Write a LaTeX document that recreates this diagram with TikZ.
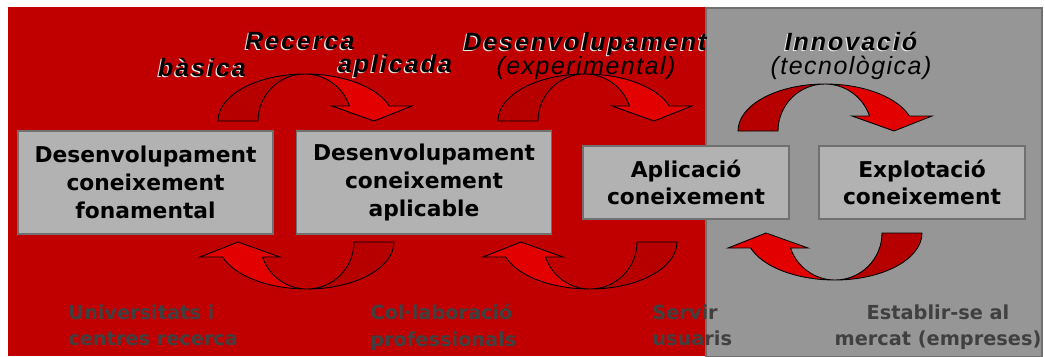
\documentclass[tikz,border=0pt]{standalone}
\usepackage{fontspec}
\setmainfont{DejaVu Sans}
\newfontfamily\stagefont[LetterSpace=6]{Liberation Sans}
\newfontfamily\stageboldfont[LetterSpace=8]{Liberation Sans}
\definecolor{bgred}{RGB}{192,0,0}
\definecolor{bggrey}{RGB}{150,150,150}
\definecolor{boxgrey}{RGB}{178,178,178}
\definecolor{rimgrey}{RGB}{112,112,112}
\definecolor{darkshaft}{RGB}{182,0,0}
\definecolor{lightshaft}{RGB}{226,0,0}
\definecolor{labgrey}{RGB}{64,64,64}
\definecolor{shadegrey}{RGB}{235,235,235}

% bent block arrow: centre x, base y, turn
\newcommand{\bentarrow}[3]{%
  \begin{scope}[shift={(#1,#2)},rotate=#3,line width=0.5pt]
    \filldraw[fill=darkshaft] (-87,0) arc[start angle=180,end angle=90,x radius=87,y radius=47]
      arc[start angle=90,end angle=180,x radius=47,y radius=47] -- cycle;
    \filldraw[fill=lightshaft] (0,47) arc[start angle=90,end angle=18.6,x radius=89,y radius=47]
      -- (107,15) -- (69,0) -- (27,15) -- (44.5,15)
      arc[start angle=18.6,end angle=90,x radius=47,y radius=47] -- cycle;
  \end{scope}}

% bold label with a pale shadow
\newcommand{\stagelabel}[4]{%
  \node[stage,boldstage,text=shadegrey] (#1s) at ($(#2,#3)+(-1.3,-1.3)$) {#4};
  \node[stage,boldstage] (#1) at (#2,#3) {#4};}

\usetikzlibrary{calc}

\begin{document}
\begin{tikzpicture}[x=0.02cm,y=0.02cm,
  box/.style={draw=rimgrey,line width=0.7pt,fill=boxgrey,align=center,
    minimum width=5.1cm,minimum height=2.06cm,inner sep=0pt,
    font=\bfseries\fontsize{12.4}{15.8}\selectfont},
  smallbox/.style={box,minimum width=4.12cm,minimum height=1.46cm},
  lab/.style={text=labgrey,inner sep=0pt,font=\bfseries\fontsize{11}{15.3}\selectfont},
  stage/.style={anchor=base,inner sep=0pt,font=\stagefont\itshape\fontsize{14.2}{16}\selectfont},
  boldstage/.style={font=\stageboldfont\bfseries\itshape\fontsize{14.2}{16}\selectfont}]
  \useasboundingbox (0,0) rectangle (1045,356);
  \fill[bgred] (8,0) rectangle (706,349);
  \filldraw[fill=bggrey,draw=rimgrey,line width=0.6pt] (706,-1) rectangle (1042,348);

  \node[box] (F) at (145.5,173.5) {Desenvolupament\\coneixement\\fonamental};
  \node[box] (A) at (424,173.5) {Desenvolupament\\coneixement\\aplicable};
  \node[smallbox] (P) at (686,173.5) {Aplicació\\coneixement};
  \node[smallbox] (X) at (922,173.5) {Explotació\\coneixement};

  \bentarrow{305}{235}{0}
  \bentarrow{585}{235}{0}
  \bentarrow{825}{225}{0}
  \bentarrow{307}{114}{180}
  \bentarrow{590}{114}{180}
  \bentarrow{835}{123}{180}

  \stagelabel{R}{300}{307}{Recerca}
  \stagelabel{B}{202}{280}{bàsica}
  \stagelabel{Ap}{395}{284}{aplicada}
  \stagelabel{D}{585}{306}{Desenvolupament}
  \stagelabel{I}{851}{306}{Innovació}
  \node[stage] (Ex) at (586,282) {(experimental)};
  \node[stage] (T) at (851,282) {(tecnològica)};

  \node[lab,anchor=north west,align=left] (U) at (68,52) {Universitats i\\centres recerca};
  \node[lab,anchor=north west,align=left] (C) at (370,52) {Col·laboració\\professionals};
  \node[lab,anchor=north west,align=left] (S) at (652,52) {Servir\\usuaris};
  \node[lab,anchor=north,align=center] (M) at (938,52) {Establir-se al\\mercat (empreses)};
\end{tikzpicture}
\end{document}
